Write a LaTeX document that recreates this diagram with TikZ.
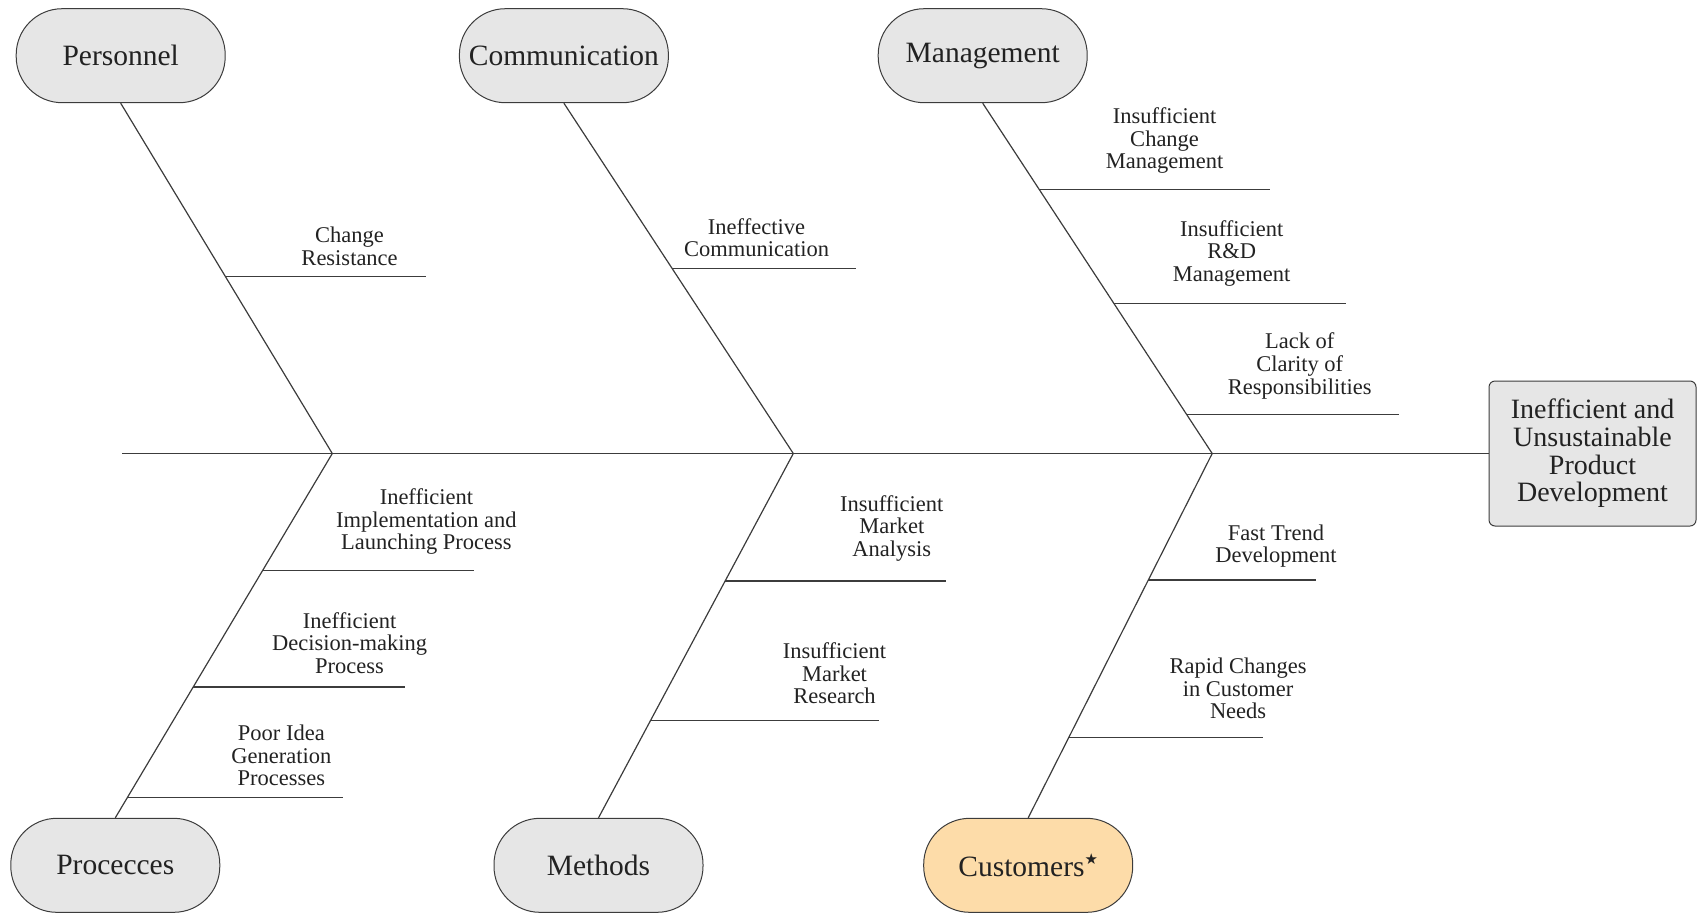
\documentclass[tikz,border=0pt]{standalone}
\usepackage{fontspec}
\setmainfont{Liberation Serif}
\newfontfamily\starfont{DejaVu Sans}
\usetikzlibrary{calc}
\definecolor{boxfill}{HTML}{E6E6E6}
\definecolor{custfill}{HTML}{FDDCA9}
\definecolor{edge}{HTML}{3C3C3C}
\definecolor{ink}{HTML}{222222}
\begin{document}
\begin{tikzpicture}[x=1pt,y=-1pt,
  cat/.style={draw=edge, line width=1pt, fill=boxfill, rounded corners=46pt,
    minimum width=209pt, minimum height=94pt, inner sep=0pt,
    font=\fontsize{29.5}{32}\selectfont, text=ink},
  effect/.style={draw=edge, line width=1pt, fill=boxfill, rounded corners=6pt,
    minimum width=207pt, minimum height=145pt, inner sep=0pt, align=center,
    font=\fontsize{28}{27.6}\selectfont, text=ink},
  bone/.style={draw=edge, line width=1.2pt},
  twig/.style={draw=edge, line width=1.2pt},
  cause/.style={align=center, inner sep=0pt,
    font=\fontsize{22.5}{22.7}\selectfont, text=ink},
]
\useasboundingbox (0,0) rectangle (1697,914);

% effect box and spine
\node[effect] (eff) at (1592.5,453.5) {Inefficient and\\Unsustainable\\Product\\Development};
\coordinate (sp) at (122.3,453.5);
\coordinate (j1) at (332.3,453.5);
\coordinate (j2) at (793.3,453.5);
\coordinate (j3) at (1212.2,453.5);
\draw[bone] (sp) -- (eff.west);

% category heads
\node[cat] (per) at (120.7,55.7) {Personnel};
\node[cat] (com) at (563.9,55.7) {Communication};
\node[cat] (man) at (982.7,55.7) {Management};
\node[cat] (pro) at (115.3,865.3) {Procecces};
\node[cat] (met) at (598.5,865.3) {Methods};
\node[cat, fill=custfill] (cus) at (1028.2,865.3) {Customers\raisebox{0.9ex}{\starfont\fontsize{15}{15}\selectfont ★}};

% main bones
\draw[bone] (per.south) -- (j1);
\draw[bone] (com.south) -- (j2);
\draw[bone] (man.south) -- (j3);
\draw[bone] (pro.north) -- (j1);
\draw[bone] (met.north) -- (j2);
\draw[bone] (cus.north) -- (j3);

% right ends of the cause lines
\coordinate (e1) at (426.4,0);
\coordinate (e2) at (856.1,0);
\coordinate (e3) at (1269.5,0);
\coordinate (e4) at (1346.4,0);
\coordinate (e5) at (1399.4,0);
\coordinate (e6) at (474.0,0);
\coordinate (e7) at (404.8,0);
\coordinate (e8) at (343.1,0);
\coordinate (e9) at (945.9,0);
\coordinate (e10) at (878.8,0);
\coordinate (e11) at (1316.1,0);
\coordinate (e12) at (1263.1,0);

% points where the cause lines leave the bones
\coordinate (b1) at ($(per.south)!0.494!(j1)$);
\coordinate (b2) at ($(com.south)!0.472!(j2)$);
\coordinate (b3) at ($(man.south)!0.247!(j3)$);
\coordinate (b4) at ($(man.south)!0.571!(j3)$);
\coordinate (b5) at ($(man.south)!0.889!(j3)$);
\coordinate (b6) at ($(pro.north)!0.679!(j1)$);
\coordinate (b7) at ($(pro.north)!0.359!(j1)$);
\coordinate (b8) at ($(pro.north)!0.056!(j1)$);
\coordinate (b9) at ($(met.north)!0.650!(j2)$);
\coordinate (b10) at ($(met.north)!0.267!(j2)$);
\coordinate (b11) at ($(cus.north)!0.653!(j3)$);
\coordinate (b12) at ($(cus.north)!0.220!(j3)$);

\foreach \i in {1,...,12} {
  \draw[twig] (b\i) -- (b\i -| e\i);
}

% cause labels
\node[cause] (c1) at (349.6,246.2) {Change\\Resistance};
\node[cause] (c2) at (756.5,237.6) {Ineffective\\Communication};
\node[cause] (c3) at (1164.6,140.7) {Insufficient\\Change\\Management};
\node[cause] (c4) at (1231.7,253.3) {Insufficient\\R\&D\\Management};
\node[cause] (c5) at (1299.8,365.8) {Lack of\\Clarity of\\Responsibilities};
\node[cause] (c6) at (426.4,521.7) {Inefficient\\Implementation and\\Launching Process};
\node[cause] (c7) at (349.6,642.9) {Inefficient\\Decision-making\\Process};
\node[cause] (c8) at (281.4,755.5) {Poor Idea\\Generation\\Processes};
\node[cause] (c9) at (891.8,528.2) {Insufficient\\Market\\Analysis};
\node[cause] (c10) at (834.5,673.2) {Insufficient\\Market\\Research};
\node[cause] (c11) at (1276.0,546.0) {Fast Trend\\Development};
\node[cause] (c12) at (1238.1,688.3) {Rapid Changes\\in Customer\\Needs};
\end{tikzpicture}
\end{document}
